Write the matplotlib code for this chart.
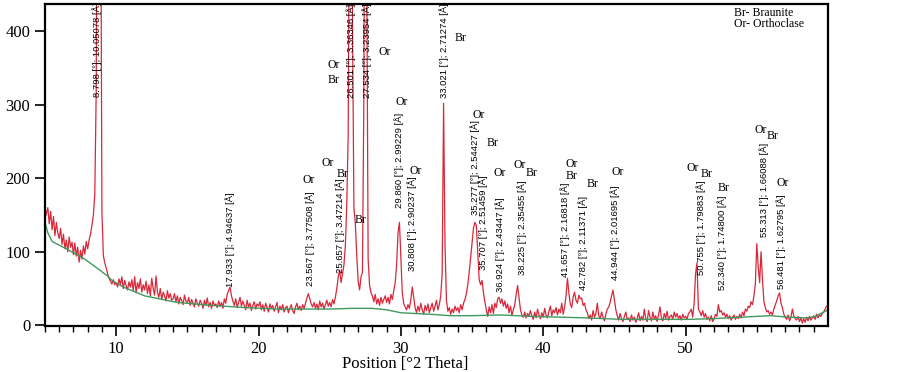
import numpy as np
import matplotlib.pyplot as plt

## scan settings
scan_start = 5.0
scan_step = 0.1

## intensity, one row per degree (5.0 .. 59.9)
counts = [
    145, 152, 160, 138, 155, 130, 148, 122, 140, 126,
    118, 132, 110, 124, 104, 116, 100, 120, 106, 113,
    96, 112, 94, 106, 86, 102, 90, 108, 97, 114,
    104, 116, 124, 136, 150, 178, 320, 820, 1150, 700,
    155, 95, 85, 78, 70, 64, 60, 56, 62, 55,
    58, 52, 63, 55, 66, 50, 61, 54, 48, 59,
    52, 62, 47, 66, 44, 58, 50, 63, 45, 55,
    48, 60, 43, 55, 40, 64, 50, 41, 67, 45,
    38, 50, 35, 45, 40, 33, 47, 37, 43, 34,
    36, 43, 32, 40, 29, 38, 34, 28, 41, 33,
    31, 38, 27, 35, 30, 25, 36, 30, 26, 34,
    30, 23, 34, 27, 37, 25, 31, 23, 33, 27,
    29, 24, 33, 26, 31, 23, 36, 30, 42, 47,
    52, 40, 33, 27, 36, 24, 31, 38, 26, 33,
    27, 21, 34, 25, 30, 20, 27, 32, 22, 29,
    26, 32, 21, 28, 19, 30, 24, 18, 29, 23,
    27, 19, 25, 31, 17, 26, 21, 28, 18, 24,
    26, 17, 23, 28, 20, 16, 25, 30, 21, 26,
    20, 28, 23, 30, 37, 43, 36, 29, 25, 31,
    23, 29, 21, 33, 25, 30, 22, 28, 34, 26,
    31, 25, 35, 29, 38, 50, 66, 75, 58, 70,
    82, 108, 165, 260, 650, 1000, 420, 160, 139, 95,
    60, 48, 66, 72, 310, 1000, 500, 90, 55, 44,
    40, 32, 42, 29, 36, 27, 38, 30, 35, 40,
    31, 38, 29, 42, 35, 47, 58, 82, 126, 140,
    92, 44, 29, 25, 21, 28, 23, 35, 52, 38,
    24, 17, 26, 19, 30, 21, 15, 27, 20, 29,
    17, 24, 30, 19, 26, 34, 21, 28, 40, 70,
    302, 110, 34, 19, 24, 15, 22, 17, 26, 20,
    24, 17, 28, 21, 30, 35, 43, 55, 72, 92,
    112, 132, 140, 136, 100, 62, 55, 61, 44, 32,
    21, 12, 25, 17, 28, 16, 30, 24, 36, 38,
    30, 36, 26, 33, 23, 29, 17, 26, 13, 21,
    28, 42, 54, 38, 21, 14, 11, 18, 10, 16,
    12, 20, 13, 8, 18, 10, 22, 14, 9, 17,
    11, 23, 14, 10, 19, 26, 13, 21, 17, 24,
    14, 22, 17, 30, 15, 25, 40, 64, 44, 29,
    24, 38, 45, 34, 30, 41, 36, 37, 27, 30,
    21, 17, 9, 14, 7, 20, 11, 16, 30, 13,
    9, 18, 11, 6, 15, 22, 25, 31, 40, 48,
    34, 21, 13, 7, 16, 9, 5, 12, 18, 8,
    10, 5, 14, 7, 11, 4, 9, 17, 6, 12,
    7, 22, 9, 5, 20, 11, 6, 18, 8, 13,
    5, 14, 25, 10, 6, 16, 9, 19, 7, 12,
    14, 8, 18, 11, 16, 9, 13, 7, 15, 10,
    12, 8, 16, 18, 22, 11, 30, 70, 85, 22,
    18, 13, 20, 11, 16, 8, 11, 6, 13, 5,
    9, 15, 12, 28, 18, 20, 14, 17, 11, 15,
    9, 13, 7, 11, 14, 8, 12, 9, 15, 10,
    18, 13, 22, 19, 26, 24, 32, 28, 40, 56,
    111, 80, 58, 100, 62, 32, 24, 18, 20, 15,
    18, 14, 22, 28, 33, 40, 44, 30, 24, 15,
    11, 8, 14, 6, 11, 22, 13, 9, 7, 12,
    5, 10, 3, 9, 4, 11, 6, 12, 7, 10,
    13, 8, 15, 10, 14, 12, 16, 18, 22, 26,
]
two_theta = np.round(scan_start + scan_step*np.arange(len(counts)), 2)

## fitted background (green)
bg_x = [5.0, 5.2, 5.5, 6.5, 7.8, 8.5, 9.4, 9.7, 10.5, 12.0, 14.3, 16.7, 19.1, 21.4,
        23.0, 25.0, 26.5, 28.0, 29.0, 30.0, 32.0, 33.5, 35.0, 37.0, 39.3, 41.2,
        43.0, 45.6, 48.0, 50.2, 52.0, 54.9, 56.0, 57.2, 58.5, 59.1, 59.9]
bg_y = [140, 126, 114, 104, 90, 80, 67, 61, 52, 40, 31, 27, 24, 22,
        22, 22, 23, 23, 21, 17, 15, 13, 13, 14, 12, 11,
        10, 8, 8, 8, 9, 12, 13, 11, 10, 12, 20]

## peak labels
peak_labels = ['8.798 [°]; 10.05078 [Å]', '17.933 [°]; 4.94637 [Å]', '23.567 [°]; 3.77508 [Å]',
               '25.657 [°]; 3.47214 [Å]', '26.501 [°]; 3.36346 [Å]', '27.534 [°]; 3.23954 [Å]',
               '29.860 [°]; 2.99229 [Å]', '30.808 [°]; 2.90237 [Å]', '33.021 [°]; 2.71274 [Å]',
               '35.277 [°]; 2.54427 [Å]', '35.707 [°]; 2.51459 [Å]', '36.924 [°]; 2.43447 [Å]',
               '38.225 [°]; 2.35455 [Å]', '41.657 [°]; 2.16818 [Å]', '42.782 [°]; 2.11371 [Å]',
               '44.944 [°]; 2.01695 [Å]', '50.755 [°]; 1.79883 [Å]', '52.340 [°]; 1.74800 [Å]',
               '55.313 [°]; 1.66088 [Å]', '56.481 [°]; 1.62795 [Å]']
label_x = [8.66, 18.0, 23.6, 25.75, 26.52, 27.64, 29.9, 30.8, 33.06, 35.2,
           35.8, 37.0, 38.5, 41.57, 42.83, 45.08, 51.06, 52.6, 55.5, 56.7]
label_y = [310, 52, 54, 71, 309, 309, 160, 74, 309, 150,
           75, 45, 68, 66, 48, 61, 68, 48, 120, 50]

## phase marks
phase_text = ['Or', 'Br', 'Or', 'Br', 'Or', 'Or', 'Br', 'Or', 'Or', 'Br', 'Or', 'Or',
              'Or', 'Br', 'Or', 'Br', 'Br', 'Or', 'Or', 'Br', 'Br', 'Or', 'Br', 'Or', 'Br']
phase_x = [25.25, 25.25, 28.84, 34.18, 30.03, 35.45, 36.43, 31.02, 24.83, 25.89, 23.50, 36.93,
           38.33, 39.18, 42.0, 42.0, 43.47, 45.22, 50.50, 51.48, 52.68, 55.28, 56.13, 56.83, 27.15]
phase_y = [354, 334, 372, 391, 304, 286, 248, 210, 221, 206, 198, 207,
           218, 207, 219, 203, 192, 208, 214, 206, 187, 266, 257, 193, 143]

fig = plt.figure(figsize=(9.03, 3.72), dpi=100)
ax = fig.add_axes([0.0498, 0.1237, 0.8671, 0.8653])

ax.plot(two_theta, counts, color='#d8283a', lw=0.9)
ax.plot(bg_x, bg_y, color='#3f9a5e', lw=1.0)

for t, x, y in zip(peak_labels, label_x, label_y):
    ax.text(x, y, t, rotation=90, ha='center', va='bottom', fontsize=6.8,
            family='Liberation Sans', clip_on=False)

for t, x, y in zip(phase_text, phase_x, phase_y):
    ax.text(x, y, t, ha='center', va='center', fontsize=8.5, family='Liberation Serif')

ax.text(53.38, 425, 'Br- Braunite', ha='left', va='center', fontsize=8.5, family='Liberation Serif')
ax.text(53.38, 410, 'Or- Orthoclase', ha='left', va='center', fontsize=8.5, family='Liberation Serif')

ax.set_xlim(5.0, 60.0)
ax.set_ylim(-1, 437)
ax.set_xticks([10, 20, 30, 40, 50])
ax.set_xticks(np.arange(5, 60), minor=True)
ax.set_yticks([0, 100, 200, 300, 400])
ax.tick_params(axis='both', which='major', direction='out', length=7, width=1.2,
               labelsize=12)
ax.tick_params(axis='x', which='minor', direction='out', length=4, width=1.0)
for lab in ax.get_xticklabels() + ax.get_yticklabels():
    lab.set_family('Liberation Serif')
for s in ax.spines.values():
    s.set_linewidth(1.6)

ax.set_xlabel('Position [°2 Theta]', family='Liberation Serif', fontsize=12)
ax.xaxis.set_label_coords(0.46, -0.093)

plt.savefig('out.png', dpi=100)
